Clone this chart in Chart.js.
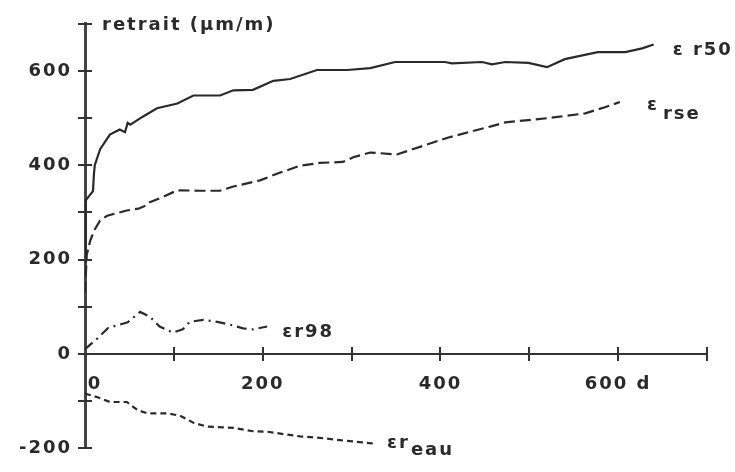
<!DOCTYPE html>
<html><head><meta charset="utf-8">
<script src="https://cdn.jsdelivr.net/npm/chart.js@4/dist/chart.umd.min.js"></script>
<style>html,body{margin:0;padding:0;background:#fff}#wrap{width:735px;height:472px}</style>
</head><body><div id="wrap"><canvas id="c" width="735" height="472"></canvas></div>
<script>
// ---- data (days, shrinkage µm/m) ----
const r50Days   = [0, 1, 9, 10, 11, 17, 28, 39, 45, 48, 51, 65, 81, 104, 122, 152, 167, 189, 212, 231, 261, 295, 321, 349, 405, 413, 447, 458, 473, 499, 520, 540, 577, 608, 627, 640];
const r50Values = [195, 326, 345, 380, 400, 434, 465, 476, 470, 490, 486, 503, 521, 531, 548, 548, 559, 560, 579, 583, 602, 602, 606, 619, 619, 616, 619, 614, 619, 617, 608, 625, 640, 640, 648, 656];

const rseDays   = [0, 2, 6, 11, 17, 25, 47, 60, 68, 71, 84, 104, 129, 152, 167, 197, 216, 242, 264, 290, 302, 321, 351, 364, 409, 458, 473, 521, 563, 585, 602];
const rseValues = [130, 210, 241, 264, 283, 293, 304, 308, 314, 320, 330, 347, 346, 346, 355, 368, 382, 399, 405, 407, 417, 427, 423, 431, 459, 483, 491, 500, 510, 523, 534];

const r98Days   = [0, 14, 26, 48, 62, 73, 84, 99, 110, 118, 133, 149, 163, 178, 189, 205];
const r98Values = [10, 33, 55, 67, 89, 79, 58, 45, 52, 68, 72, 68, 62, 54, 52, 58];

const eauDays   = [0, 14, 28, 47, 59, 70, 92, 107, 122, 137, 167, 189, 205, 227, 242, 264, 287, 309, 324];
const eauValues = [-84, -92, -102, -102, -119, -126, -126, -131, -146, -154, -157, -164, -165, -171, -175, -178, -183, -187, -190];

const xLabelValues = [0, 200, 400, 600];
const xLabelTexts  = ['0', '200', '400', '600 d'];
const yLabelValues = [-200, 0, 200, 400, 600];
const yLabelTexts  = ['-200', '0', '200', '400', '600'];
const yTitle = 'retrait (µm/m)';

// ---- styling ----
const INK = '#2a2a2a';
const FONT = {family: 'DejaVu Sans', size: 18, weight: 'bold'};
const LS = '2px';
const pts = (d, v) => d.map((x, i) => ({x, y: v[i]}));

const seriesLabels = [
  {ds: 0, parts: [{t: 'ε r50', dx: 19, dy: 10}]},
  {ds: 1, parts: [{t: 'ε', dx: 27, dy: 8}, {t: 'rse', dx: 43, dy: 17}]},
  {ds: 2, parts: [{t: 'εr98', dx: 15, dy: 10}]},
  {ds: 3, parts: [{t: 'εr', dx: 14, dy: 5}, {t: 'eau', dx: 38, dy: 12}]}
];

const spacing = {
  id: 'spacing',
  beforeDraw(chart) { chart.ctx.letterSpacing = LS; }
};

const crossTicks = {
  id: 'crossTicks',
  afterDraw(chart) {
    const {ctx, chartArea, scales: {x, y}} = chart;
    const ax = chartArea.left;
    const ay = y.getPixelForValue(0);
    ctx.save();
    ctx.strokeStyle = '#333';
    ctx.lineWidth = 2;
    ctx.beginPath();
    y.ticks.forEach(t => {
      const py = Math.round(y.getPixelForValue(t.value));
      ctx.moveTo(ax - 7, py); ctx.lineTo(ax + 7, py);
    });
    x.ticks.forEach(t => {
      if (t.value === 0) return;
      const px = Math.round(x.getPixelForValue(t.value));
      ctx.moveTo(px, ay - 7); ctx.lineTo(px, ay + 7);
    });
    ctx.stroke();
    ctx.restore();
  }
};

const annotations = {
  id: 'annotations',
  afterDraw(chart) {
    const {ctx, chartArea, scales: {y}} = chart;
    ctx.save();
    ctx.letterSpacing = LS;
    ctx.fillStyle = INK;
    ctx.font = 'bold ' + FONT.size + 'px "' + FONT.family + '"';
    ctx.textAlign = 'left';
    ctx.textBaseline = 'alphabetic';
    ctx.fillText(yTitle, chartArea.left + 17, y.getPixelForValue(700) + 6);
    seriesLabels.forEach(s => {
      const pts = chart.getDatasetMeta(s.ds).data;
      const last = pts[pts.length - 1];
      s.parts.forEach(p => ctx.fillText(p.t, last.x + p.dx, last.y + p.dy));
    });
    ctx.restore();
  }
};

const lineDs = (label, data, dash) => ({
  label, data, borderColor: INK, borderWidth: 2.2, borderDash: dash,
  pointRadius: 0, tension: 0, fill: false
});

new Chart(document.getElementById('c'), {
  type: 'line',
  data: {
    datasets: [
      lineDs('εr50', pts(r50Days, r50Values), []),
      lineDs('εrse', pts(rseDays, rseValues), [11, 5]),
      lineDs('εr98', pts(r98Days, r98Values), [10, 5, 2, 5]),
      lineDs('εreau', pts(eauDays, eauValues), [6, 4])
    ]
  },
  options: {
    responsive: false,
    animation: false,
    devicePixelRatio: 1,
    layout: {padding: {left: 15, right: 28, top: 22, bottom: 18}},
    plugins: {legend: {display: false}, tooltip: {enabled: false}},
    scales: {
      x: {
        type: 'linear', position: {y: 0}, min: 0, max: 700,
        ticks: {
          stepSize: 100, autoSkip: false, maxRotation: 0, padding: 20,
          color: INK, font: FONT,
          callback: v => {
            const i = xLabelValues.indexOf(v);
            if (i < 0) return '';
            return v === 0 ? '\u2003' + xLabelTexts[i] : xLabelTexts[i];
          }
        },
        grid: {drawOnChartArea: false, drawTicks: false},
        border: {display: true, color: '#333', width: 2}
      },
      y: {
        type: 'linear', position: 'left', min: -200, max: 700,
        afterFit: s => { s.width = 70; },
        ticks: {
          stepSize: 100, autoSkip: false, padding: 13,
          color: INK, font: FONT,
          callback: v => {
            const i = yLabelValues.indexOf(v);
            return i < 0 ? '' : yLabelTexts[i];
          }
        },
        grid: {drawOnChartArea: false, drawTicks: false},
        border: {display: true, color: '#444', width: 3}
      }
    }
  },
  plugins: [spacing, crossTicks, annotations]
});
</script></body></html>
